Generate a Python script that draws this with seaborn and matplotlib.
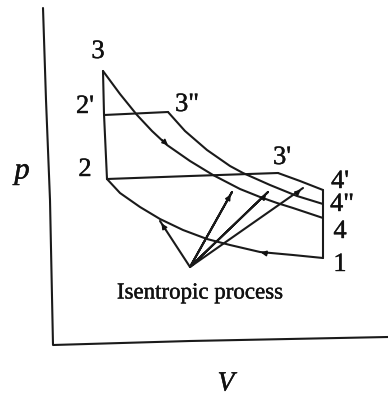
import matplotlib
matplotlib.use("Agg")
import matplotlib.pyplot as plt
import matplotlib.patheffects as pe
import seaborn as sns

sns.set_theme(style="white")
plt.rcParams['font.family'] = ['Liberation Serif', 'DejaVu Serif']

# values (pixels of the scanned diagram)
axis_v = [43, 46, 50, 53, 190, 388]
axis_p = [8, 100, 200, 345, 341, 337]

expansion_v = [103, 120, 137, 152, 167, 190, 213, 240, 260, 277, 293, 323]
expansion_p = [71, 94, 115, 131, 145, 161, 175, 189, 197, 203, 208, 218]

expansion2_v = [168, 185, 207, 230, 243, 270, 297, 323]
expansion2_p = [112, 131, 150, 166, 173, 185, 196, 204]

expansion3_v = [278, 300, 323]
expansion3_p = [173, 181, 190]

compression_v = [323, 293, 260, 230, 207, 183, 160, 140, 120, 107]
compression_p = [258, 255, 252, 245, 239, 230, 219, 207, 193, 179]

isochor_v = [103, 104, 107]
isochor_p = [71, 114, 179]

end_v = [323, 323, 323]
end_p = [190, 218, 258]

heat1_v = [104, 168]
heat1_p = [115, 112]

heat2_v = [107, 190, 278]
heat2_p = [179, 176, 173]

ray_v = [160, 190, 232, 190, 268, 190, 303]
ray_p = [221, 267, 192, 267, 192, 267, 188]

labels = ["3", "2'", "3\"", "2", "3'", "4'", "4\"", "4", "1"]
label_v = [98, 85, 187, 85, 282, 340, 342, 340, 340]
label_p = [52, 107, 105, 170, 158, 182, 205, 232, 265]

# arrow heads: tail v, tail p, tip v, tip p
arrow_from_v = [160, 270, 167, 227, 263, 297]
arrow_from_p = [138, 254, 232, 201, 198, 193]
arrow_to_v = [170, 258, 160, 232, 268, 303]
arrow_to_p = [147, 252, 221, 192, 192, 188]

fig, ax = plt.subplots(figsize=(3.88, 3.96), dpi=100)
fig.subplots_adjust(left=0, right=1, top=1, bottom=0)

paths = [
    (axis_v, axis_p), (expansion_v, expansion_p), (expansion2_v, expansion2_p),
    (expansion3_v, expansion3_p), (compression_v, compression_p),
    (isochor_v, isochor_p), (end_v, end_p), (heat1_v, heat1_p),
    (heat2_v, heat2_p), (ray_v, ray_p),
]
for vs, ps in paths:
    sns.lineplot(x=vs, y=ps, sort=False, estimator=None, color="#1a1a1a",
                 linewidth=1.5, ax=ax)

for v0, p0, v1, p1 in zip(arrow_from_v, arrow_from_p, arrow_to_v, arrow_to_p):
    ax.annotate("", xy=(v1, p1), xytext=(v0, p0),
                arrowprops=dict(arrowstyle="-|>", color="#111111", lw=1.1,
                                mutation_scale=8))

heavy = [pe.withStroke(linewidth=0.3, foreground="#111111")]
for txt, v, p in zip(labels, label_v, label_p):
    ax.text(v, p, txt, fontsize=19, ha="center", va="center", color="#111111",
            path_effects=heavy)

ax.text(200, 293, "Isentropic process", fontsize=16.5, ha="center", va="center",
        color="#111111", path_effects=heavy)
ax.text(22, 171, "p", fontsize=22, style="italic", ha="center", va="center",
        color="#111111", path_effects=heavy)
ax.text(226, 384, "V", fontsize=20, style="italic", ha="center", va="center",
        color="#111111", path_effects=heavy)

ax.set_xlim(0, 388)
ax.set_ylim(396, 0)
ax.axis("off")

fig.savefig("out.png", dpi=100)
